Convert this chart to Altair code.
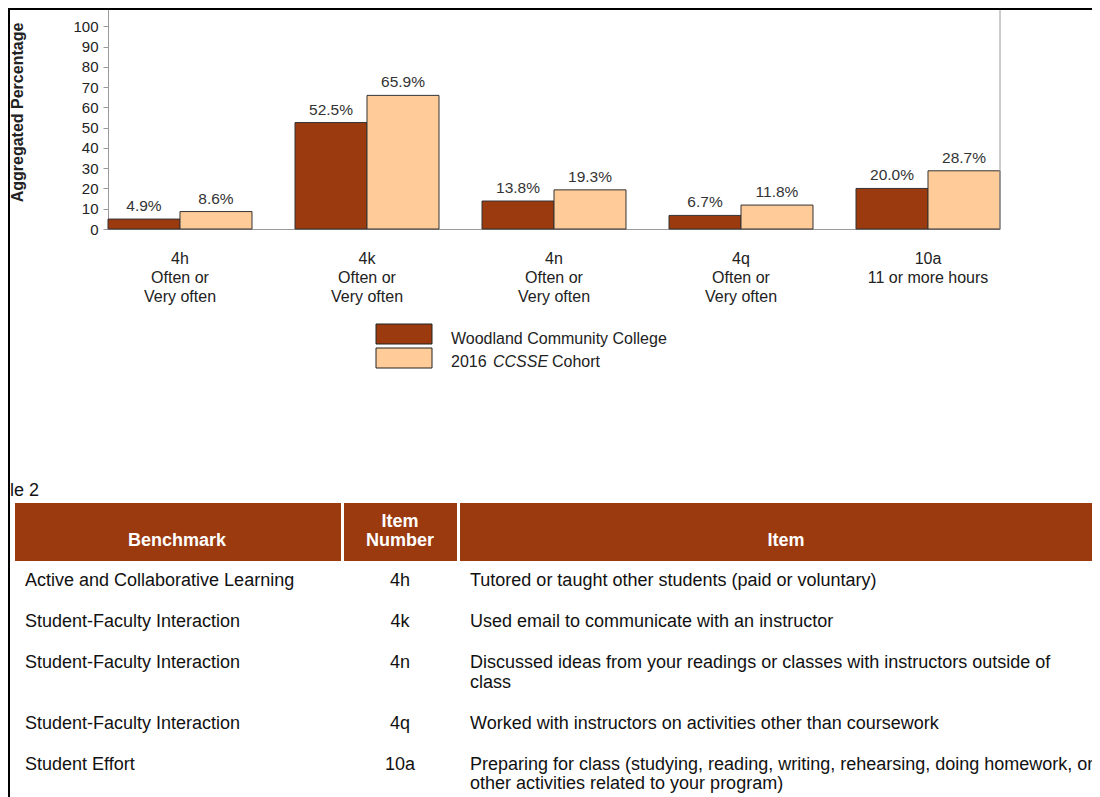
import altair as alt
import pandas as pd

# ---------------- data ----------------
items = ["4h", "4k", "4n", "4q", "10a"]
item_desc = ["Often or\nVery often", "Often or\nVery often", "Often or\nVery often",
             "Often or\nVery often", "11 or more hours"]
series = ["Woodland Community College", "2016 CCSSE Cohort"]
college_values = [4.9, 52.5, 13.8, 6.7, 20.0]
cohort_values = [8.6, 65.9, 19.3, 11.8, 28.7]
y_ticks = [0, 10, 20, 30, 40, 50, 60, 70, 80, 90, 100]

table_caption = "le 2"
table_headers = ["Benchmark", "Item\nNumber", "Item"]
table_benchmarks = ["Active and Collaborative Learning", "Student-Faculty Interaction",
                    "Student-Faculty Interaction", "Student-Faculty Interaction", "Student Effort"]
table_item_numbers = ["4h", "4k", "4n", "4q", "10a"]
table_items = [
    "Tutored or taught other students (paid or voluntary)",
    "Used email to communicate with an instructor",
    "Discussed ideas from your readings or classes with instructors outside of\nclass",
    "Worked with instructors on activities other than coursework",
    "Preparing for class (studying, reading, writing, rehearsing, doing homework, or\nother activities related to your program)",
]

# ---------------- layout constants ----------------
W, H = 1084, 789
DARK = "#9C3A0F"
LIGHT = "#FFCC99"
FONT = "Liberation Sans"
TXT = "#222222"
PLOT_L, PLOT_R, PLOT_B = 100, 992, 221
Y_MAX = 109

labels = [f"{i}\n{d}" for i, d in zip(items, item_desc)]
rows = []
for lab, cv, hv in zip(labels, college_values, cohort_values):
    rows.append({"label": lab, "series": series[0], "value": cv})
    rows.append({"label": lab, "series": series[1], "value": hv})
bar_df = pd.DataFrame(rows)
bar_df["text"] = bar_df["value"].map(lambda v: f"{v:.1f}%")

one = pd.DataFrame({"a": [0]})

base = alt.Chart(bar_df).encode(
    x=alt.X("label:N", sort=labels,
            scale=alt.Scale(range=[PLOT_L, PLOT_R], paddingInner=0.23, paddingOuter=0),
            axis=alt.Axis(orient="bottom", offset=-(H - PLOT_B), title=None, labelAngle=0,
                          labelExpr="split(datum.value, '\\n')", ticks=False, tickSize=0,
                          domainColor="#9a9a9a", labelFontSize=16, labelLineHeight=19,
                          labelPadding=21, labelColor=TXT, labelFont=FONT, grid=False)),
    xOffset=alt.XOffset("series:N", sort=series,
                        scale=alt.Scale(domain=series, paddingInner=0, paddingOuter=0)),
    y=alt.Y("value:Q",
            scale=alt.Scale(domain=[0, Y_MAX], range=[PLOT_B, 0], nice=False),
            axis=alt.Axis(orient="left", offset=-PLOT_L, values=y_ticks, grid=False,
                          domainColor="#9a9a9a", tickColor="#9a9a9a", tickSize=5,
                          labelFontSize=15, labelColor=TXT, labelFont=FONT, labelPadding=5,
                          title="Aggregated Percentage", titleFontSize=16,
                          titleFontWeight="bold", titleColor=TXT, titleFont=FONT,
                          titleX=-91, titleY=104, titleAngle=270, titleAlign="center",
                          titleBaseline="middle")),
)
bars = base.mark_bar(stroke="#333333", strokeWidth=1).encode(
    color=alt.Color("series:N", scale=alt.Scale(domain=series, range=[DARK, LIGHT]), legend=None)
)
vals = base.mark_text(dy=-13, fontSize=15.5, color="#333333", font=FONT).encode(text="text:N")
right_line = alt.Chart(one).mark_rule(color="#9a9a9a", strokeWidth=1).encode(
    x=alt.value(PLOT_R), y=alt.value(0), y2=alt.value(PLOT_B))
bar_layer = alt.layer(bars, vals, right_line)

# frame lines
frame_top = alt.Chart(one).mark_rule(color="black", strokeWidth=4).encode(
    x=alt.value(0), x2=alt.value(W), y=alt.value(0))
frame_left = alt.Chart(one).mark_rule(color="black", strokeWidth=4).encode(
    x=alt.value(0), y=alt.value(0), y2=alt.value(H))

# legend
leg_df = pd.DataFrame({"series": series})
leg_y = alt.Y("series:N", sort=series,
              scale=alt.Scale(domain=series, range=[316, 360], paddingInner=1 / 6, paddingOuter=0),
              axis=None)
leg_rect = alt.Chart(leg_df).mark_rect(stroke="#222222", strokeWidth=1).encode(
    x=alt.value(368), x2=alt.value(424), y=leg_y,
    color=alt.Color("series:N", scale=alt.Scale(domain=series, range=[DARK, LIGHT]), legend=None))
leg_t1 = alt.Chart(leg_df[leg_df.series == series[0]]).mark_text(
    align="left", baseline="middle", dy=5, fontSize=16, font=FONT, color=TXT).encode(
    x=alt.value(443), y=leg_y, text="series:N")
sec = series[1].split(" ")
leg_df2 = leg_df[leg_df.series == series[1]].copy()
leg_df2["p1"] = sec[0]
leg_df2["p2"] = sec[1]
leg_df2["p3"] = sec[2]
leg_t2a = alt.Chart(leg_df2).mark_text(align="left", baseline="middle", dy=3.5, fontSize=16,
                                       font=FONT, color=TXT).encode(
    x=alt.value(443), y=leg_y, text="p1:N")
leg_t2b = alt.Chart(leg_df2).mark_text(align="left", baseline="middle", dy=3.5, fontSize=16,
                                       font=FONT, color=TXT, fontStyle="italic").encode(
    x=alt.value(485), y=leg_y, text="p2:N")
leg_t2c = alt.Chart(leg_df2).mark_text(align="left", baseline="middle", dy=3.5, fontSize=16,
                                       font=FONT, color=TXT).encode(
    x=alt.value(544), y=leg_y, text="p3:N")
legend_layer = alt.layer(leg_rect, leg_t1, leg_t2a, leg_t2b, leg_t2c)

# ---------------- table ----------------
ident_x = alt.Scale(domain=[0, W], range=[0, W], nice=False, zero=False)
ident_y = alt.Scale(domain=[0, H], range=[0, H], nice=False, zero=False)

caption = alt.Chart(pd.DataFrame({"t": [table_caption]})).mark_text(
    align="left", baseline="middle", fontSize=18, font=FONT, color="#111111").encode(
    x=alt.value(2), y=alt.value(483), text="t:N")

col_edges = [(7, 333), (336, 449), (452, W + 20)]
col_text_x = [169, 392, 778]
HEAD_TOP, HEAD_BOT = 495, 553
head_df = pd.DataFrame({"x0": [e[0] for e in col_edges], "x1": [e[1] for e in col_edges],
                        "y0": HEAD_TOP, "y1": HEAD_BOT})
head_rect = alt.Chart(head_df).mark_rect(color=DARK).encode(
    x=alt.X("x0:Q", scale=ident_x, axis=None), x2="x1:Q",
    y=alt.Y("y0:Q", scale=ident_y, axis=None), y2="y1:Q")

LINE = 19.5
hrows = []
for ci, h in enumerate(table_headers):
    parts = h.split("\n")
    n = len(parts)
    for k, p in enumerate(parts):
        hrows.append({"t": p, "x": col_text_x[ci], "y": 533 - (n - 1 - k) * LINE})
head_txt = alt.Chart(pd.DataFrame(hrows)).mark_text(
    align="center", baseline="middle", fontSize=18, fontWeight="bold", color="white", font=FONT
).encode(x=alt.X("x:Q", scale=ident_x, axis=None),
         y=alt.Y("y:Q", scale=ident_y, axis=None), text="t:N")

ROW0, GAP = 573, 21.5
body = []
ystart = ROW0
for b, num, it in zip(table_benchmarks, table_item_numbers, table_items):
    lines = it.split("\n")
    body.append({"t": b, "col": 0, "y": ystart})
    body.append({"t": num, "col": 1, "y": ystart})
    for k, ln in enumerate(lines):
        body.append({"t": ln, "col": 2, "y": ystart + k * LINE})
    ystart += len(lines) * LINE + GAP
body_df = pd.DataFrame(body)


def body_layer(col, xpos, align):
    return alt.Chart(body_df[body_df.col == col]).mark_text(
        align=align, baseline="middle", fontSize=18, color="#111111", font=FONT
    ).encode(x=alt.value(xpos), y=alt.Y("y:Q", scale=ident_y, axis=None), text="t:N")


table_layer = alt.layer(
    caption, head_rect, head_txt,
    body_layer(0, 17, "left"), body_layer(1, 392, "center"), body_layer(2, 462, "left"),
)

chart = alt.layer(bar_layer, legend_layer, table_layer, frame_top, frame_left).resolve_scale(
    x="independent", y="independent", color="independent"
).properties(
    width=W, height=H, padding=0, autosize=alt.AutoSizeParams(type="none")
).configure_view(stroke=None).configure(background="white")

chart.save("out.html", embed_options={"renderer": "svg", "actions": False})
